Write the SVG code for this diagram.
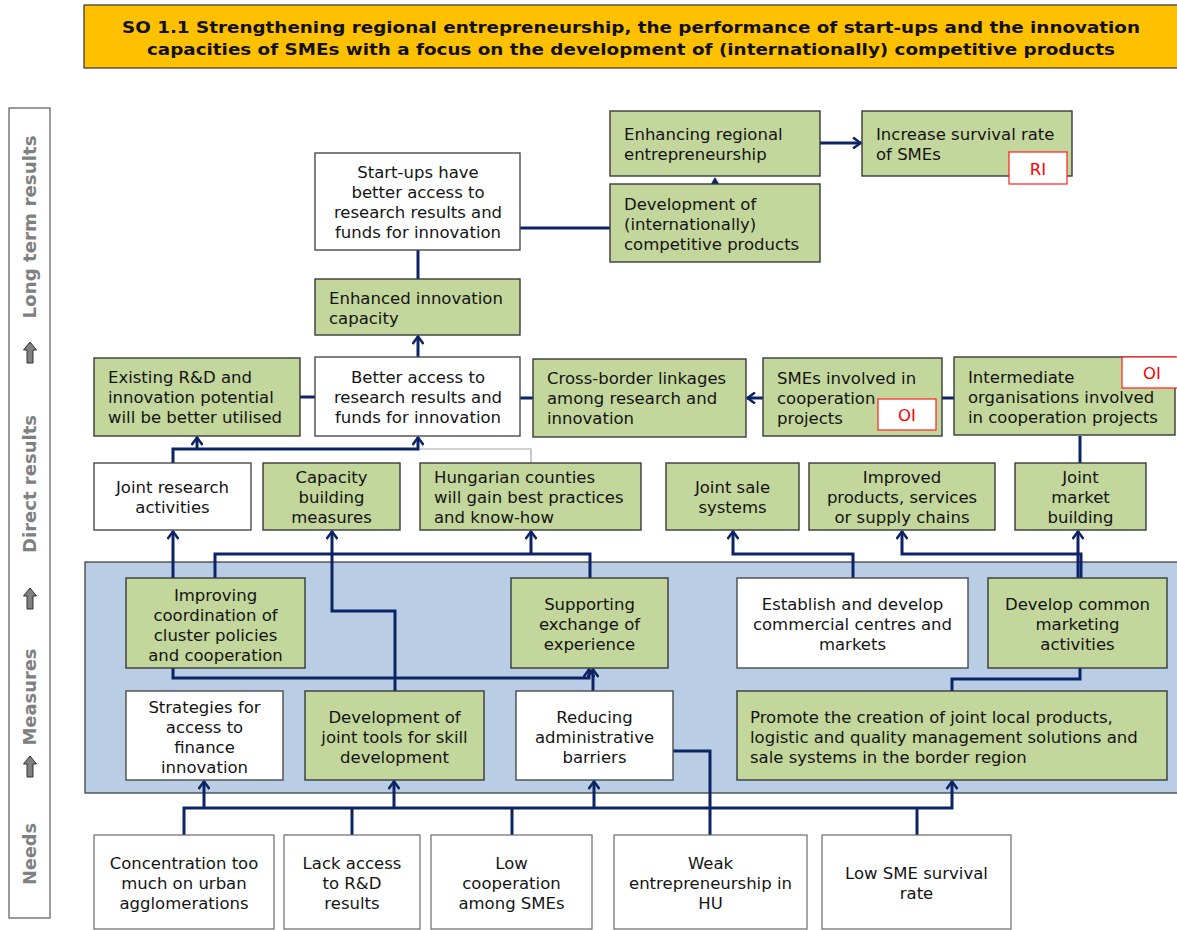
<svg xmlns="http://www.w3.org/2000/svg" width="1177" height="930" viewBox="0 0 1177 930">
<style>
.g{fill:#C3D69B;stroke:#3A3A3A;stroke-width:1.4}
.w{fill:#FFFFFF;stroke:#4A4A4A;stroke-width:1.4}
.nw{fill:#FFFFFF;stroke:#6A6A6A;stroke-width:1.2}
.t{font-family:"DejaVu Sans",Verdana,sans-serif;font-size:16.5px;fill:#141414}
.c{text-anchor:middle}
.red{fill:#FFFFFF;stroke:#FF2020;stroke-width:1.2}
.rt{font-family:"DejaVu Sans",Verdana,sans-serif;font-size:16.5px;fill:#FF0000;text-anchor:middle}
.ln{fill:none;stroke:#0C2466;stroke-width:3}
.side{font-family:"DejaVu Sans",Verdana,sans-serif;font-weight:bold;font-size:17px;fill:#808080;text-anchor:middle}
.ttl{font-family:"DejaVu Sans",Verdana,sans-serif;font-weight:bold;font-size:16px;fill:#111;text-anchor:middle}
.sa{fill:#808080;stroke:#303030;stroke-width:1}
</style>
<defs>
<marker id="arr" viewBox="0 0 12 12" refX="9" refY="6" markerWidth="12" markerHeight="12" markerUnits="userSpaceOnUse" orient="auto">
<path d="M1,0.5 L8.5,6 L1,11.5" fill="none" stroke="#0C2466" stroke-width="2.5"/>
</marker>
</defs>
<rect width="1177" height="930" fill="#FFFFFF"/>

<g id="title">
<rect x="84" y="5" width="1100" height="63" fill="#FFC000" stroke="#333" stroke-width="1.2"/>
<text class="ttl" x="631" y="33" textLength="1018" lengthAdjust="spacingAndGlyphs">SO 1.1 Strengthening regional entrepreneurship, the performance of start-ups and the innovation</text>
<text class="ttl" x="631" y="55" textLength="968" lengthAdjust="spacingAndGlyphs">capacities of SMEs with a focus on the development of (internationally) competitive products</text>
</g>

<g id="sidebar">
<rect x="9" y="108" width="41" height="810" fill="#FFFFFF" stroke="#595959" stroke-width="1.2"/>
<text class="side" transform="translate(36,227) rotate(-90)" textLength="183" lengthAdjust="spacingAndGlyphs">Long term results</text>
<text class="side" transform="translate(36,484) rotate(-90)" textLength="138" lengthAdjust="spacingAndGlyphs">Direct results</text>
<text class="side" transform="translate(36,697) rotate(-90)" textLength="97" lengthAdjust="spacingAndGlyphs">Measures</text>
<text class="side" transform="translate(36,854) rotate(-90)" textLength="62" lengthAdjust="spacingAndGlyphs">Needs</text>
<path class="sa" d="M30,342 L36.5,350 L33,350 L33,363 L27,363 L27,350 L23.5,350 Z"/>
<path class="sa" d="M30,588 L36.5,596 L33,596 L33,609 L27,609 L27,596 L23.5,596 Z"/>
<path class="sa" d="M30,756 L36.5,764 L33,764 L33,777 L27,777 L27,764 L23.5,764 Z"/>
</g>

<g id="measures-band">
<rect x="85" y="562" width="1100" height="231" fill="#B9CDE5" stroke="#333" stroke-width="1.2"/>
</g>

<g id="connectors">
<path class="ln" d="M520,228 H610"/>
<polygon points="711,184 715,177 719,184" fill="#0C2466"/>
<path class="ln" d="M820,143 H861" marker-end="url(#arr)"/>
<path class="ln" d="M418,250 V279"/>
<path class="ln" d="M418,357 V336" marker-end="url(#arr)"/>
<path class="ln" d="M300,397 H315"/>
<path class="ln" d="M520,398 H533"/>
<path class="ln" d="M763,398 H747" marker-end="url(#arr)"/>
<path class="ln" d="M942,398 H954"/>
<path class="ln" d="M1080,436 V463"/>
<path d="M418,449 H531 V463" fill="none" stroke="#A6A6A6" stroke-width="1.2"/>
<path class="ln" d="M173,463 V449 H418 V437" marker-end="url(#arr)"/>
<path class="ln" d="M197,449 V437" marker-end="url(#arr)"/>
<path class="ln" d="M173,578 V531" marker-end="url(#arr)"/>
<path class="ln" d="M215,578 V554 H590 V578"/>
<path class="ln" d="M531,554 V531" marker-end="url(#arr)"/>
<path class="ln" d="M395,691 V611 H332 V531" marker-end="url(#arr)"/>
<path class="ln" d="M173,668 V678 H589 V669" marker-end="url(#arr)"/>
<path class="ln" d="M593,691 V669" marker-end="url(#arr)"/>
<path class="ln" d="M853,578 V554 H733 V531" marker-end="url(#arr)"/>
<path class="ln" d="M1078,578 V531" marker-end="url(#arr)"/>
<path class="ln" d="M1081,578 V554 H902 V531" marker-end="url(#arr)"/>
<path class="ln" d="M1080,668 V679 H952 V691"/>
<path class="ln" d="M184,835 V808 H952 V781" marker-end="url(#arr)"/>
<path class="ln" d="M204,808 V781" marker-end="url(#arr)"/>
<path class="ln" d="M394,808 V781" marker-end="url(#arr)"/>
<path class="ln" d="M594,808 V781" marker-end="url(#arr)"/>
<path class="ln" d="M352,835 V808"/>
<path class="ln" d="M512,835 V808"/>
<path class="ln" d="M917,835 V808"/>
<path class="ln" d="M710,835 V751 H673"/>
</g>

<g id="n-startups">
<rect class="w" x="315" y="153" width="205" height="97"/>
<text class="t c" x="418" y="178">Start-ups have</text>
<text class="t c" x="418" y="198">better access to</text>
<text class="t c" x="418" y="218">research results and</text>
<text class="t c" x="418" y="238">funds for innovation</text>
</g>
<g id="n-enhancing-regional">
<rect class="g" x="610" y="111" width="210" height="65"/>
<text class="t" x="624" y="140">Enhancing regional</text>
<text class="t" x="624" y="160">entrepreneurship</text>
</g>
<g id="n-development-products">
<rect class="g" x="610" y="184" width="210" height="78"/>
<text class="t" x="624" y="210">Development of</text>
<text class="t" x="624" y="230">(internationally)</text>
<text class="t" x="624" y="250">competitive products</text>
</g>
<g id="n-survival">
<rect class="g" x="862" y="111" width="210" height="65"/>
<text class="t" x="876" y="140">Increase survival rate</text>
<text class="t" x="876" y="160">of SMEs</text>
<rect class="red" x="1009" y="152" width="58" height="32"/>
<text class="rt" x="1038" y="175">RI</text>
</g>
<g id="n-enhanced-capacity">
<rect class="g" x="315" y="279" width="205" height="56"/>
<text class="t" x="329" y="304">Enhanced innovation</text>
<text class="t" x="329" y="324">capacity</text>
</g>

<g id="n-existing">
<rect class="g" x="94" y="358" width="206" height="78"/>
<text class="t" x="108" y="383">Existing R&amp;D and</text>
<text class="t" x="108" y="403">innovation potential</text>
<text class="t" x="108" y="423">will be better utilised</text>
</g>
<g id="n-better-access">
<rect class="w" x="315" y="357" width="205" height="79"/>
<text class="t c" x="418" y="383">Better access to</text>
<text class="t c" x="418" y="403">research results and</text>
<text class="t c" x="418" y="423">funds for innovation</text>
</g>
<g id="n-crossborder">
<rect class="g" x="533" y="359" width="213" height="78"/>
<text class="t" x="547" y="384">Cross-border linkages</text>
<text class="t" x="547" y="404">among research and</text>
<text class="t" x="547" y="424">innovation</text>
</g>
<g id="n-smes-involved">
<rect class="g" x="763" y="358" width="179" height="78"/>
<text class="t" x="777" y="384">SMEs involved in</text>
<text class="t" x="777" y="404">cooperation</text>
<text class="t" x="777" y="424">projects</text>
<rect class="red" x="878" y="399" width="58" height="31"/>
<text class="rt" x="907" y="421">OI</text>
</g>
<g id="n-intermediate">
<rect class="g" x="954" y="357" width="221" height="78"/>
<text class="t" x="968" y="383">Intermediate</text>
<text class="t" x="968" y="403">organisations involved</text>
<text class="t" x="968" y="423">in cooperation projects</text>
<rect class="red" x="1122" y="357" width="62" height="31"/>
<text class="rt" x="1152" y="379">OI</text>
</g>
<g id="n-joint-research">
<rect class="w" x="94" y="463" width="157" height="67"/>
<text class="t c" x="172.5" y="493">Joint research</text>
<text class="t c" x="172.5" y="513">activities</text>
</g>
<g id="n-capacity">
<rect class="g" x="263" y="463" width="137" height="67"/>
<text class="t c" x="331.5" y="483">Capacity</text>
<text class="t c" x="331.5" y="503">building</text>
<text class="t c" x="331.5" y="523">measures</text>
</g>
<g id="n-hungarian">
<rect class="g" x="420" y="463" width="221" height="67"/>
<text class="t" x="434" y="483">Hungarian counties</text>
<text class="t" x="434" y="503">will gain best practices</text>
<text class="t" x="434" y="523">and know-how</text>
</g>
<g id="n-joint-sale">
<rect class="g" x="666" y="463" width="133" height="67"/>
<text class="t c" x="732.5" y="493">Joint sale</text>
<text class="t c" x="732.5" y="513">systems</text>
</g>
<g id="n-improved">
<rect class="g" x="809" y="463" width="186" height="67"/>
<text class="t c" x="902" y="483">Improved</text>
<text class="t c" x="902" y="503">products, services</text>
<text class="t c" x="902" y="523">or supply chains</text>
</g>
<g id="n-joint-market">
<rect class="g" x="1015" y="463" width="131" height="67"/>
<text class="t c" x="1080.5" y="483">Joint</text>
<text class="t c" x="1080.5" y="503">market</text>
<text class="t c" x="1080.5" y="523">building</text>
</g>

<g id="n-improving">
<rect class="g" x="126" y="578" width="179" height="90"/>
<text class="t c" x="215.5" y="601">Improving</text>
<text class="t c" x="215.5" y="621">coordination of</text>
<text class="t c" x="215.5" y="641">cluster policies</text>
<text class="t c" x="215.5" y="661">and cooperation</text>
</g>
<g id="n-supporting">
<rect class="g" x="511" y="578" width="157" height="90"/>
<text class="t c" x="589.5" y="610">Supporting</text>
<text class="t c" x="589.5" y="630">exchange of</text>
<text class="t c" x="589.5" y="650">experience</text>
</g>
<g id="n-establish">
<rect class="w" x="737" y="578" width="231" height="90"/>
<text class="t c" x="852.5" y="610">Establish and develop</text>
<text class="t c" x="852.5" y="630">commercial centres and</text>
<text class="t c" x="852.5" y="650">markets</text>
</g>
<g id="n-develop-common">
<rect class="g" x="988" y="578" width="179" height="90"/>
<text class="t c" x="1077.5" y="610">Develop common</text>
<text class="t c" x="1077.5" y="630">marketing</text>
<text class="t c" x="1077.5" y="650">activities</text>
</g>
<g id="n-strategies">
<rect class="w" x="126" y="691" width="157" height="89"/>
<text class="t c" x="204.5" y="713">Strategies for</text>
<text class="t c" x="204.5" y="733">access to</text>
<text class="t c" x="204.5" y="753">finance</text>
<text class="t c" x="204.5" y="773">innovation</text>
</g>
<g id="n-dev-tools">
<rect class="g" x="305" y="691" width="179" height="89"/>
<text class="t c" x="394.5" y="723">Development of</text>
<text class="t c" x="394.5" y="743">joint tools for skill</text>
<text class="t c" x="394.5" y="763">development</text>
</g>
<g id="n-reducing">
<rect class="w" x="516" y="691" width="157" height="89"/>
<text class="t c" x="594.5" y="723">Reducing</text>
<text class="t c" x="594.5" y="743">administrative</text>
<text class="t c" x="594.5" y="763">barriers</text>
</g>
<g id="n-promote">
<rect class="g" x="737" y="691" width="430" height="89"/>
<text class="t" x="750" y="723">Promote the creation of joint local products,</text>
<text class="t" x="750" y="743">logistic and quality management solutions and</text>
<text class="t" x="750" y="763">sale systems in the border region</text>
</g>

<g id="n-concentration">
<rect class="nw" x="94" y="835" width="180" height="94"/>
<text class="t c" x="184" y="869">Concentration too</text>
<text class="t c" x="184" y="889">much on urban</text>
<text class="t c" x="184" y="909">agglomerations</text>
</g>
<g id="n-lack">
<rect class="nw" x="284" y="835" width="136" height="94"/>
<text class="t c" x="352" y="869">Lack access</text>
<text class="t c" x="352" y="889">to R&amp;D</text>
<text class="t c" x="352" y="909">results</text>
</g>
<g id="n-lowcoop">
<rect class="nw" x="431" y="835" width="161" height="94"/>
<text class="t c" x="511.5" y="869">Low</text>
<text class="t c" x="511.5" y="889">cooperation</text>
<text class="t c" x="511.5" y="909">among SMEs</text>
</g>
<g id="n-weak">
<rect class="nw" x="614" y="835" width="193" height="94"/>
<text class="t c" x="710.5" y="869">Weak</text>
<text class="t c" x="710.5" y="889">entrepreneurship in</text>
<text class="t c" x="710.5" y="909">HU</text>
</g>
<g id="n-lowsme">
<rect class="nw" x="822" y="835" width="189" height="94"/>
<text class="t c" x="916.5" y="879">Low SME survival</text>
<text class="t c" x="916.5" y="899">rate</text>
</g>
</svg>
